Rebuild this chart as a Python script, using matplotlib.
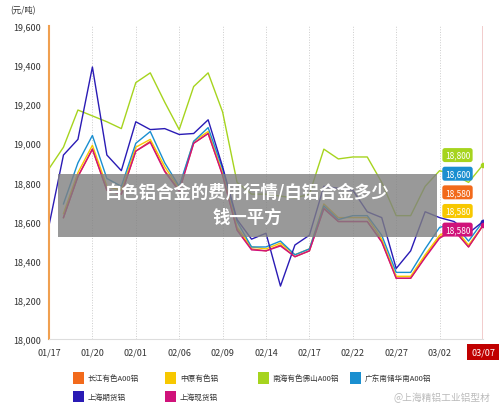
import numpy as np
import matplotlib
matplotlib.use("Agg")
import matplotlib.pyplot as plt
from matplotlib.patches import Rectangle

plt.rcParams['font.family'] = ['Noto Sans CJK SC', 'DejaVu Sans']
nan = np.nan
tick_labels = ["01/17","01/20","02/01","02/06","02/09","02/14","02/17","02/22","02/27","03/02","03/07"]
names = ["长江有色A00铝","中原有色铝","南海有色佛山A00铝","广东南储华南A00铝","上海期货铝","上海现货铝"]
colors = ["#f26a1b","#f7c800","#a6d41e","#1a8fd0","#2a1bb5","#d0127a"]
changjiang = [nan,18620,18830,18970,18760,18740,18960,19010,18860,18760,19000,19050,18840,18560,18460,18450,18480,18420,18450,18670,18600,18600,18600,18500,18310,18310,18420,18520,18560,18470,18580]
zhongyuan = [nan,18640,18850,18990,18780,18760,18980,19020,18880,18770,19010,19060,18850,18570,18470,18460,18490,18430,18460,18690,18620,18620,18620,18510,18320,18320,18430,18530,18570,18480,18580]
nanhai = [18870,18980,19170,19140,19110,19075,19310,19360,19210,19070,19290,19360,19160,18800,18740,18740,18730,18720,18740,18970,18920,18930,18930,18800,18630,18630,18780,18860,18840,18800,18890]
guangdong = [nan,18690,18900,19040,18820,18780,19000,19060,18900,18780,19010,19080,18870,18600,18470,18470,18500,18430,18460,18680,18610,18630,18630,18530,18340,18340,18460,18570,18590,18500,18600]
shfe = [18580,18940,19020,19390,18940,18860,19110,19070,19075,19045,19050,19120,18880,18610,18510,18540,18270,18480,18530,18780,18770,18760,18650,18620,18360,18450,18650,18620,18600,18540,18600]
xianhuo = [nan,18620,18830,18970,18760,18740,18960,19005,18855,18755,19000,19050,18835,18555,18455,18450,18475,18420,18450,18665,18600,18600,18600,18495,18310,18310,18415,18515,18555,18470,18580]
series = [changjiang, zhongyuan, nanhai, guangdong, shfe, xianhuo]
end_labels = ["18,800","18,600","18,580","18,580","18,580"]
end_colors = ["#a6d41e","#1a8fd0","#f26a1b","#f7c800","#d0127a"]

fig = plt.figure(figsize=(5, 4.14), dpi=100)
ax = fig.add_axes([0.098, 0.179, 0.868, 0.756])
x = np.arange(31)
for s, c in zip(series, colors):
    ax.plot(x, s, color=c, lw=1.0)
ax.set_xlim(0, 30)
ax.set_ylim(18000, 19600)
ax.set_xticks(np.arange(0, 31, 3))
ax.set_xticklabels(tick_labels, fontsize=6.5, color="#333")
ax.set_yticks(np.arange(18000, 19601, 200))
ax.set_yticklabels([f"{v:,}" for v in range(18000, 19601, 200)], fontsize=6.5, color="#333")
ax.tick_params(length=0, pad=6)
ax.grid(axis='x', color="#ccc", ls=":", lw=0.7)
for sp in ["top", "right"]:
    ax.spines[sp].set_visible(False)
ax.spines["bottom"].set_color("#ddd")
ax.spines["left"].set_color("#f0a050")
ax.spines["left"].set_linewidth(1.5)
ax.axvline(30, color="#c00000", lw=1)
for i, s in enumerate([nanhai, guangdong, shfe, xianhuo]):
    ax.plot(30, s[-1], 'o', ms=3, color=[colors[2], colors[3], colors[4], colors[5]][i])
ax.text(30, 17955, "03/07", ha="center", va="top", fontsize=6.5, color="white",
        bbox=dict(boxstyle="square,pad=0.4", fc="#c00000", ec="none"))
for k, (t, c) in enumerate(zip(end_labels, end_colors)):
    fig.text(0.915, 0.623 - k * 0.045, t, ha="center", va="center", fontsize=6, color="white",
             bbox=dict(boxstyle="round,pad=0.3", fc=c, ec="none"))
fig.text(0.02, 0.968, "(元/吨)", fontsize=6, color="#333")
fig.patches.append(Rectangle((0.116, 0.425), 0.758, 0.152, transform=fig.transFigure,
                             fc="#808080", alpha=0.8, ec="none"))
fig.text(0.495, 0.535, "白色铝合金的费用行情/白铝合金多少", ha="center", va="center",
         fontsize=12.5, weight="bold", color="white")
fig.text(0.495, 0.475, "钱一平方", ha="center", va="center", fontsize=12.5, weight="bold", color="white")
# legend
pos = [(0.145, 0.085), (0.33, 0.085), (0.515, 0.085), (0.70, 0.085), (0.145, 0.04), (0.33, 0.04)]
for (px, py), n, c in zip(pos, names, colors):
    fig.patches.append(Rectangle((px, py - 0.014), 0.022, 0.028, transform=fig.transFigure, fc=c, ec="none"))
    fig.text(px + 0.03, py, n, va="center", fontsize=5.5, color="#333")
fig.text(0.98, 0.04, "@上海精铝工业铝型材", ha="right", va="center", fontsize=7, color="#bbb")
fig.savefig("out.png", dpi=100)
